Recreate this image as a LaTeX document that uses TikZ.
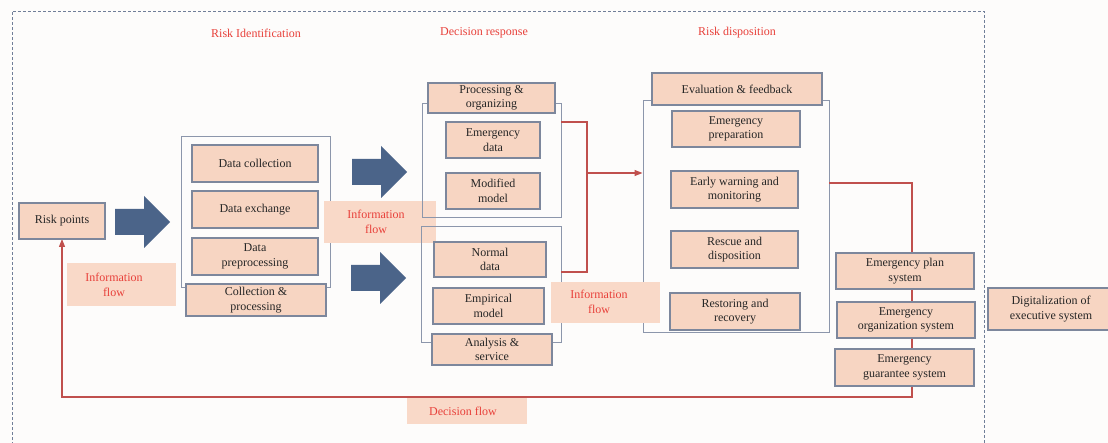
\documentclass[tikz,border=0pt]{standalone}
\usepackage{fontspec}
\setmainfont{Liberation Serif}
\usetikzlibrary{arrows.meta}

\definecolor{pagebg}{HTML}{FDFCFB}
\definecolor{boxfill}{HTML}{F7D5C2}
\definecolor{boxline}{HTML}{7D879C}
\definecolor{frameline}{HTML}{8C96AB}
\definecolor{arrowblue}{HTML}{4B6489}
\definecolor{flowred}{HTML}{C0504D}
\definecolor{titlered}{HTML}{E8403A}
\definecolor{labelbg}{HTML}{F9D9C8}
\definecolor{dashline}{HTML}{707E98}
\definecolor{ink}{HTML}{262626}

\begin{document}
\begin{tikzpicture}[x=1pt,y=-1pt,
  wh/.style 2 args={minimum width=#1, minimum height=#2},
  box/.style={draw=boxline, line width=1.1pt, fill=boxfill, text=ink,
    font=\fontsize{12}{14.5}\selectfont, align=center, inner sep=0pt},
  frame/.style={draw=frameline, line width=1pt, inner sep=0pt},
  labelpad/.style={fill=labelbg, inner sep=0pt},
  labeltext/.style={text=titlered, font=\fontsize{12}{14.5}\selectfont, align=center},
  sectiontitle/.style={text=titlered, font=\fontsize{12}{14.5}\selectfont},
  flow/.style={draw=flowred, line width=1.3pt},
  blockarrow/.pic={\fill[arrowblue] (0,-13) -- (29,-13) -- (29,-26) -- (55,0)
    -- (29,26) -- (29,13) -- (0,13) -- cycle;}
]
\useasboundingbox (0,0) rectangle (1108,443);
\fill[pagebg] (0,0) rectangle (1108,443);

% dashed outline of the whole process
\draw[dashline, line width=0.9pt, dash pattern=on 3pt off 2pt]
  (12,450) -- (12,11) -- (984,11) -- (984,450);

% stage titles
\node[sectiontitle] (tri) at (256,33) {Risk Identification};
\node[sectiontitle] (tdr) at (484,33) {Decision response};
\node[sectiontitle] (trd) at (737,33) {Risk disposition};

% risk identification frame
\node[frame, wh={149}{151}] (ricon) at (255.5,212.5) {};

\node[labelpad, wh={112}{42}] (ifpadA) at (380,222) {};

% decision response frames
\node[frame, wh={139}{114}] (upcon) at (491.5,161) {};
\node[frame, wh={140}{116}] (locon) at (491,285) {};

% risk disposition frame
\node[frame, wh={186}{232}] (dicon) at (736,217) {};

% red flow lines
\coordinate (uo) at (561,122);
\coordinate (lo) at (561,272);
\coordinate (jn) at (587,173);
\draw[flow] (uo) -| (jn) |- (lo);
\draw[flow, -{Triangle[length=8pt, width=6pt]}] (jn) -- (jn -| dicon.west);

\coordinate (ro) at (829,183);
\coordinate (fb) at (912,397);
\node[labelpad, wh={109}{41}] (ifpadB) at (605.5,302.5) {};
\node[labelpad, wh={109}{43}] (ifpadC) at (121.5,284.5) {};
\node[labelpad, wh={120}{26}] (dfpad) at (467,411) {};
\draw[flow, -{Triangle[length=8pt, width=6pt]}] (ro) -| (fb) -| (62,239);

% boxes
\node[box, wh={86}{36}] (risk) at (62,221) {Risk points};

\node[box, wh={126}{37}] (dc) at (255,163.5) {Data collection};
\node[box, wh={126}{37}] (dx) at (255,209.5) {Data exchange};
\node[box, wh={126}{37}] (dp) at (255,256.5) {Data\\preprocessing};
\node[box, wh={140}{32}] (cp) at (256,300) {Collection \&\\processing};

\node[box, wh={127}{30}] (po) at (491.5,98) {Processing \&\\organizing};
\node[box, wh={94}{36}] (ed) at (493,140) {Emergency\\data};
\node[box, wh={94}{36}] (mm) at (493,191) {Modified\\model};
\node[box, wh={112}{35}] (nd) at (490,259.5) {Normal\\data};
\node[box, wh={111}{36}] (em) at (488.5,306) {Empirical\\model};
\node[box, wh={120}{31}] (as) at (492,349.5) {Analysis \&\\service};

\node[box, wh={170}{32}] (ef) at (737,89) {Evaluation \& feedback};
\node[box, wh={128}{36}] (ep) at (736,129) {Emergency\\preparation};
\node[box, wh={127}{37}] (ew) at (734.5,189.5) {Early warning and\\monitoring};
\node[box, wh={127}{37}] (rd) at (734.5,249.5) {Rescue and\\disposition};
\node[box, wh={130}{37}] (rr) at (735,311.5) {Restoring and\\recovery};

\node[box, wh={138}{36}] (eps) at (905,271) {Emergency plan\\system};
\node[box, wh={138}{36}] (eos) at (906,320) {Emergency\\organization system};
\node[box, wh={139}{37}] (egs) at (904.5,367.5) {Emergency\\guarantee system};

\node[box, wh={126}{42}] (dig) at (1051,309) {Digitalization of\\executive system};

% flow labels
\node[labeltext] (ifA) at (376,222) {Information\\flow};
\node[labeltext] (ifB) at (599,302) {Information\\flow};
\node[labeltext] (ifC) at (114,285) {Information\\flow};
\node[labeltext] (df) at (463,411) {Decision flow};

% block arrows between stages
\pic at (115,222) {blockarrow};
\pic at (352,172) {blockarrow};
\pic at (351,278) {blockarrow};
\end{tikzpicture}
\end{document}
